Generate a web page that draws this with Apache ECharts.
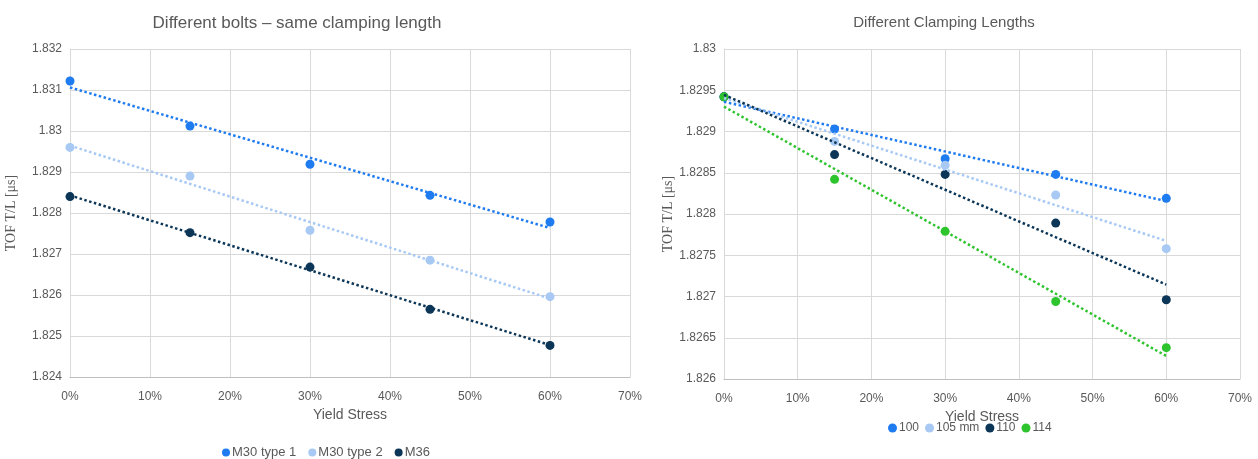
<!DOCTYPE html>
<html>
<head>
<meta charset="utf-8">
<script src="https://cdn.jsdelivr.net/npm/echarts@6/dist/echarts.min.js"></script>
<style>
html,body{margin:0;padding:0;background:#fff;}
#c{width:1258px;height:459px;}
</style>
</head>
<body>
<div id="c"></div>
<script>
// ---- Data ----
const xStress = [0, 0.15, 0.30, 0.45, 0.60];

const leftNames = ['M30 type 1', 'M30 type 2', 'M36'];
const m30type1 = [1.83122, 1.83012, 1.82919, 1.82843, 1.82778];
const m30type2 = [1.82960, 1.82890, 1.82758, 1.82685, 1.82596];
const m36      = [1.82840, 1.82752, 1.82668, 1.82565, 1.82477];

const rightNames = ['100', '105 mm', '110', '114'];
const len100 = [1.82942, 1.82903, 1.82867, 1.82848, 1.82819];
const len105 = [1.82942, 1.82888, 1.82859, 1.82823, 1.82758];
const len110 = [1.82942, 1.82872, 1.82848, 1.82789, 1.82696];
const len114 = [1.82942, 1.82842, 1.82779, 1.82694, 1.82638];

const xTicks = [0, 0.1, 0.2, 0.3, 0.4, 0.5, 0.6, 0.7];

// ---- Styles ----
const colBlue = '#1f7bf0', colLight = '#a7c9f4', colNavy = '#0c3657', colGreen = '#2ec42e';
const grey = '#595959';
const fontSans = 'Liberation Sans, Arial, sans-serif';

function pairs(ys){ return xStress.map((x,i)=>[x, ys[i]]); }
function trend(ys){
  const n = xStress.length;
  const mx = xStress.reduce((a,b)=>a+b,0)/n;
  const my = ys.reduce((a,b)=>a+b,0)/n;
  let sxy=0, sxx=0;
  for(let i=0;i<n;i++){ sxy+=(xStress[i]-mx)*(ys[i]-my); sxx+=(xStress[i]-mx)**2; }
  const b = sxy/sxx, a = my - b*mx;
  const x0 = xStress[0], x1 = xStress[n-1];
  return [[x0, a+b*x0],[x1, a+b*x1]];
}

function xAxis(gi){
  return {
    type:'value', gridIndex:gi, min:xTicks[0], max:xTicks[xTicks.length-1], interval:0.1,
    name:'Yield Stress', nameLocation:'middle', nameGap: gi===0 ? 31 : 30,
    nameTextStyle:{color:grey, fontSize:14, fontFamily:fontSans},
    axisLine:{show:true, lineStyle:{color:'#bfbfbf'}},
    axisTick:{show:false},
    axisLabel:{color:grey, fontSize:12, fontFamily:fontSans, margin:14,
      formatter:v=>Math.round(v*100)+'%'},
    splitLine:{show:true, lineStyle:{color:'#d9d9d9'}}
  };
}
function yAxis(gi, min, max, interval, gap){
  return {
    type:'value', gridIndex:gi, min:min, max:max, interval:interval,
    name:'TOF T/L [μs]', nameLocation:'middle', nameGap:gap, nameRotate:90,
    nameTextStyle:{color:grey, fontSize:14, fontFamily:'Liberation Serif, Times New Roman, serif'},
    axisLine:{show:true, lineStyle:{color:'#d9d9d9'}},
    axisTick:{show:false},
    axisLabel:{color:grey, fontSize:12, fontFamily:fontSans, margin:8,
      formatter:v=>String(parseFloat(v.toFixed(5)))},
    splitLine:{show:true, lineStyle:{color:'#d9d9d9'}}
  };
}

const series = [];
function addSeries(name, ys, color, gi){
  series.push({
    name:name, type:'scatter', xAxisIndex:gi, yAxisIndex:gi,
    data:pairs(ys), symbol:'circle', symbolSize:9,
    itemStyle:{color:color, opacity:1}, z:3
  });
  series.push({
    name:name+' trend', type:'line', xAxisIndex:gi, yAxisIndex:gi,
    data:trend(ys), symbol:'none', silent:true,
    lineStyle:{color:color, type:'dotted', width:2.5}, z:4
  });
}
addSeries(leftNames[0], m30type1, colBlue, 0);
addSeries(leftNames[1], m30type2, colLight, 0);
addSeries(leftNames[2], m36, colNavy, 0);
addSeries(rightNames[0], len100, colBlue, 1);
addSeries(rightNames[1], len105, colLight, 1);
addSeries(rightNames[2], len110, colNavy, 1);
addSeries(rightNames[3], len114, colGreen, 1);

const option = {
  animation:false,
  backgroundColor:'#fff',
  title:[
    {text:'Different bolts – same clamping length', left:292, top:10, textAlign:'center',
      textStyle:{color:grey, fontSize:17, fontWeight:'normal', fontFamily:fontSans}},
    {text:'Different Clamping Lengths', left:939, top:10, textAlign:'center',
      textStyle:{color:grey, fontSize:15, fontWeight:'normal', fontFamily:fontSans}}
  ],
  legend:[
    {data:leftNames, left:217, top:441, icon:'circle', itemWidth:8, itemHeight:8, itemGap:12,
      textStyle:{color:grey, fontSize:13, fontFamily:fontSans, padding:[0,0,0,-3]}},
    {data:rightNames, left:883, top:417, icon:'circle', itemWidth:9, itemHeight:9, itemGap:6,
      textStyle:{color:grey, fontSize:12, fontFamily:fontSans, padding:[0,0,0,-3]}}
  ],
  grid:[
    {left:70, right:628, top:49, bottom:82},
    {left:724, right:18, top:49, bottom:80}
  ],
  xAxis:[xAxis(0), xAxis(1)],
  yAxis:[yAxis(0, 1.824, 1.832, 0.001, 52), yAxis(1, 1.826, 1.83, 0.0005, 44)],
  series:series
};

const chart = echarts.init(document.getElementById('c'), null, {renderer:'canvas'});
chart.setOption(option);
</script>
</body>
</html>
